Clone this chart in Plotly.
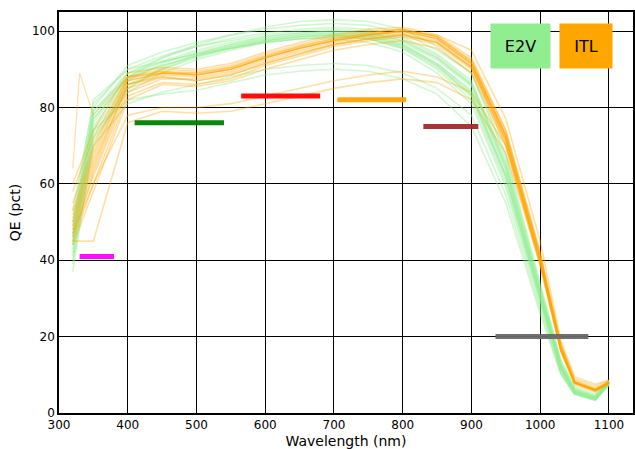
import plotly.graph_objects as go

# Wavelength grid (nm)
WAVELENGTHS = [320, 350, 400, 450, 500, 550, 600, 650, 700, 750, 800, 850, 900, 950, 1000, 1030, 1050, 1080, 1100]
WAVELENGTHS_FINE = [320, 330, 350, 400, 450, 500, 550, 600, 650, 700, 750, 800, 850, 900, 950, 1000, 1030, 1050, 1080, 1100]

# E2V sensor QE curves (pct)
E2V_CURVES = [
    [44, 78, 89, 93, 96, 98, 99.5, 100.5, 101, 100.5, 98.5, 94, 87, 65, 32, 13, 6.5, 4.5, 8.5],
    [47, 80, 91, 94.5, 97, 99, 100.5, 101.5, 102, 101.5, 99.5, 95, 89, 68, 34, 14, 7, 5, 8.5],
    [42, 74, 86, 90, 93, 95.5, 97.5, 98.5, 99, 98.5, 96.5, 91.5, 84, 62, 30, 11.5, 5.5, 3.8, 7.8],
    [50, 82, 90, 92, 94, 96, 97.5, 98.5, 99, 98, 95.5, 90, 82, 60, 29, 11, 5, 3.5, 7.5],
    [39, 72, 84, 89, 92.5, 95, 97, 98, 98.5, 98, 96, 91, 83.5, 62, 31, 12, 5.5, 3.5, 8],
    [46, 77, 88, 92, 95, 97, 98.5, 99.5, 100, 99.5, 97.5, 93, 86, 64, 31.5, 12.5, 6, 4, 8],
    [53, 81, 90, 93.5, 96, 97.5, 99, 100, 100.5, 100, 98, 93.5, 86.5, 66, 33, 13, 6, 4.2, 8.2],
    [43, 75, 87, 91.5, 94.5, 96.5, 98, 99, 99.5, 99, 96.5, 91.5, 84.5, 63, 30.5, 12, 5.5, 3.8, 8],
    [48, 79, 89, 92, 94, 95.5, 97, 98, 98, 97, 94.5, 89, 81, 59, 28, 10.5, 5, 3.3, 7.5],
    [40, 70, 81, 84, 86, 88, 90, 91, 91.5, 91, 89, 85, 78, 57, 27, 10.5, 5, 3.5, 7.5],
    [45, 76, 88, 93, 96.5, 99, 101, 102.5, 103, 102.5, 100.5, 96, 89, 67, 33, 13.5, 6.5, 4.5, 8.5],
    [41, 73, 85, 90, 93.5, 96, 98, 99, 99.5, 99, 97, 92.5, 85.5, 64, 31, 12, 5.8, 4, 8],
    [44, 74, 82, 83.5, 84.5, 86.5, 88.5, 89.5, 90, 89.5, 87.5, 83.5, 75, 55, 26, 10, 4.8, 3.3, 7.2],
    [49, 79, 88, 91, 93.5, 95.5, 97.5, 98.5, 99, 98.5, 96, 91, 83, 61, 29.5, 11.5, 5.3, 3.6, 7.8],
    [37, 71, 85, 90.5, 94, 96.5, 98.5, 99.5, 100, 99.5, 97.5, 93, 86, 65, 32, 12.5, 6, 4.2, 8.2],
    [46, 77, 87.5, 91, 93.5, 95.5, 97, 98, 98.5, 98, 95.5, 90.5, 83, 62, 30, 11.5, 5.5, 3.7, 7.8],
]

# ITL sensor QE curves (pct)
ITL_CURVES = [
    [48, 64, 86, 88.5, 88, 89.5, 92.5, 95, 97, 98.5, 99.5, 97.5, 91, 72, 40, 17, 8, 6, 8],
    [55, 70, 88, 90, 89.5, 91, 94, 96.5, 98.5, 100, 100.5, 98.5, 92.5, 74, 42, 18, 8.5, 6.5, 8.2],
    [45, 60, 83, 86.5, 86, 87.5, 91, 93.5, 96, 97.5, 98.5, 96.5, 90, 70, 39, 16.5, 7.8, 5.8, 7.8],
    [52, 68, 87, 89, 88.5, 90, 93, 95.5, 97.5, 99, 100, 98, 91.5, 73, 41, 17.5, 8.2, 6.2, 8],
    [47, 62, 84, 87.5, 87.5, 89, 92, 94.5, 96.5, 98, 99, 97, 90.5, 71, 39.5, 16.5, 7.8, 5.8, 7.9],
    [60, 74, 89, 90.5, 90, 91.5, 94.5, 97, 99, 100.5, 101, 99, 93, 74, 42, 18, 9, 7, 8.5],
    [44, 58, 82, 86, 85.5, 87, 90, 92.5, 95, 96.5, 97.5, 95.5, 89, 70, 38.5, 16, 7.5, 5.5, 7.6],
    [50, 66, 86, 89, 89, 90.5, 93.5, 96, 98, 99.5, 100.5, 98.5, 92, 72.5, 40.5, 17, 8, 6, 8],
    [46, 63, 85, 88, 87, 88.5, 91.5, 94, 96.5, 98, 99, 97, 90.5, 71.5, 40, 16.5, 8, 6, 8],
    [47, 60, 78, 80, 80, 81, 83, 85, 87, 88.5, 89.5, 88, 84, 70, 40, 17, 8, 6, 8],
    [45, 45, 76, 79, 78.5, 79, 81, 83, 85, 86.5, 87.5, 86.5, 82, 68, 39, 16.5, 7.8, 5.8, 7.8],
    [58, 72, 88, 89.5, 88.5, 90, 93, 95.5, 97.5, 99, 100, 98, 91.5, 72.5, 41, 17, 8, 6, 8],
    [49, 65, 86, 88, 87, 88.5, 91.5, 94, 96.5, 98, 99, 97, 90.5, 71, 39.5, 16.5, 8, 6, 8],
    [51, 67, 87, 89, 88.5, 90, 93, 95.5, 97.5, 99, 100, 99, 95, 77, 45, 19, 9.5, 7.5, 8.6],
    [53, 69, 87.5, 89.5, 89, 90.5, 93.5, 96, 98, 99.5, 100.5, 98.5, 92, 73, 41, 17.5, 8.3, 6.3, 8.1],
]
ITL_SPIKE_CURVE = [64, 89, 78, 88, 89, 88.5, 90, 93, 95.5, 97.5, 99, 100, 98, 91.5, 72, 40, 17, 8, 6, 8]

# Requirement bars
REQ_START = [330, 410, 565, 705, 830, 935]
REQ_END = [380, 540, 680, 805, 910, 1070]
REQ_QE = [41, 76, 83, 82, 75, 20]
REQ_COLORS = ["magenta", "green", "red", "orange", "brown", "#6a6a6a"]

X_TICKS = [300, 400, 500, 600, 700, 800, 900, 1000, 1100]
Y_TICKS = [0, 20, 40, 60, 80, 100]

E2V_COLOR = "#90EE90"
ITL_COLOR = "#FFA500"

fig = go.Figure()

for curve in E2V_CURVES:
    fig.add_trace(go.Scatter(x=WAVELENGTHS, y=curve, mode="lines",
                             line=dict(color=E2V_COLOR, width=1.6), opacity=0.4,
                             showlegend=False, hoverinfo="skip"))

for curve in ITL_CURVES:
    fig.add_trace(go.Scatter(x=WAVELENGTHS, y=curve, mode="lines",
                             line=dict(color=ITL_COLOR, width=1.6), opacity=0.35,
                             showlegend=False, hoverinfo="skip"))
fig.add_trace(go.Scatter(x=WAVELENGTHS_FINE, y=ITL_SPIKE_CURVE, mode="lines",
                         line=dict(color=ITL_COLOR, width=1.2), opacity=0.35,
                         showlegend=False, hoverinfo="skip"))

for x0, x1, q, c in zip(REQ_START, REQ_END, REQ_QE, REQ_COLORS):
    fig.add_trace(go.Scatter(x=[x0, x1], y=[q, q], mode="lines",
                             line=dict(color=c, width=5), opacity=0.95,
                             showlegend=False, hoverinfo="skip"))

fig.add_annotation(x=0.804, y=0.915, xref="paper", yref="paper", text="E2V",
                   xanchor="center", yanchor="middle",
                   showarrow=False, bgcolor=E2V_COLOR, width=57, height=42, borderpad=1,
                   font=dict(family="DejaVu Sans", size=16, color="black"))
fig.add_annotation(x=0.918, y=0.915, xref="paper", yref="paper", text="ITL",
                   xanchor="center", yanchor="middle",
                   showarrow=False, bgcolor=ITL_COLOR, width=50, height=42, borderpad=1,
                   font=dict(family="DejaVu Sans", size=16, color="black"))

axis_common = dict(showgrid=True, gridcolor="black", gridwidth=1, showline=True,
                   linecolor="black", linewidth=1.5, mirror=True, ticks="inside",
                   ticklen=4, tickcolor="black", zeroline=False,
                   tickfont=dict(family="DejaVu Sans", size=12, color="black"))

fig.update_xaxes(range=[300, 1135], tickvals=X_TICKS, **axis_common,
                 title=dict(text="Wavelength (nm)", standoff=6,
                            font=dict(family="DejaVu Sans", size=14, color="black")))
fig.update_yaxes(range=[0, 105], tickvals=Y_TICKS, **axis_common,
                 title=dict(text="QE (pct)", standoff=8,
                            font=dict(family="DejaVu Sans", size=14, color="black")))

fig.update_layout(width=635, height=449, margin=dict(l=59, r=0, t=12, b=36),
                  plot_bgcolor="white", paper_bgcolor="white",
                  font=dict(family="DejaVu Sans"))

fig.write_html("out.html")
